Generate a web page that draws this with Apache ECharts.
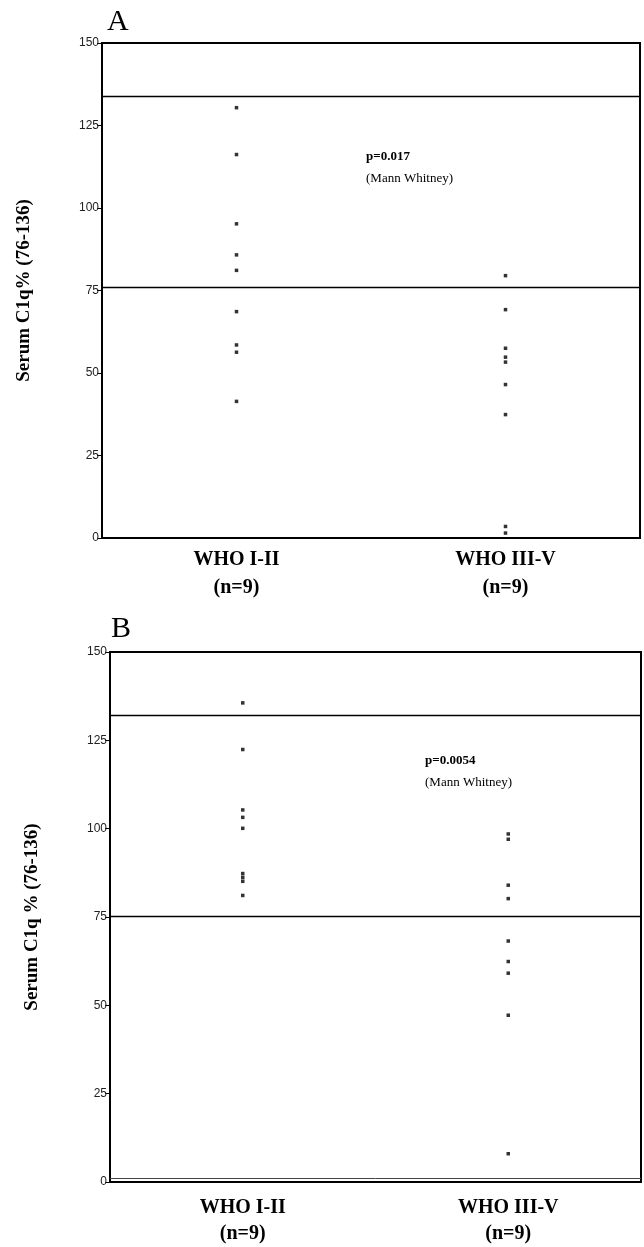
<!DOCTYPE html>
<html>
<head>
<meta charset="utf-8">
<script src="https://cdn.jsdelivr.net/npm/echarts@6/dist/echarts.min.js"></script>
<style>
html,body{margin:0;padding:0;background:#fff;}
#chart{width:644px;height:1247px;}
</style>
</head>
<body>
<div id="chart"></div>
<script>
// ---- data ----
const categories = ['WHO I-II', 'WHO III-V'];
const groupSizes = ['(n=9)', '(n=9)'];
const yTickMin = 0, yTickMax = 150, yTickStep = 25;

const panelA_whoI_II = [130.4, 116.2, 95.2, 85.8, 81.1, 68.6, 58.5, 56.3, 41.4];
const panelA_whoIII_V = [79.5, 69.2, 57.5, 54.8, 53.3, 46.5, 37.4, 3.5, 1.5];
const panelA_refLines = [133.9, 76.0];
const panelA_pText = 'p=0.017';

const panelB_whoI_II = [135.6, 122.4, 105.3, 103.2, 100.1, 87.3, 86.2, 85.1, 81.1];
const panelB_whoIII_V = [98.5, 97.0, 84.0, 80.2, 68.2, 62.4, 59.1, 47.2, 8.0];
const panelB_refLines = [132.1, 75.2];
const panelB_baseLine = [1.0];
const panelB_pText = 'p=0.0054';

const testText = '(Mann Whitney)';
const yNameA = 'Serum C1q% (76-136)';
const yNameB = 'Serum C1q % (76-136)';

// ---- build ----
const serif = '"Liberation Serif", "DejaVu Serif", serif';
const sans = '"Liberation Sans", Arial, sans-serif';

function pts(cat, arr) { return arr.map(v => [cat, v]); }

function xAxisFor(gi, margin, lh) {
  return {
    type: 'category', gridIndex: gi, data: categories,
    axisLine: { lineStyle: { color: '#000', width: 2 } },
    axisTick: { show: false },
    axisLabel: {
      margin: margin, color: '#000', fontFamily: serif, fontWeight: 'bold', fontSize: 20, lineHeight: lh,
      formatter: (v, i) => v + '\n' + groupSizes[i]
    }
  };
}
function yAxisFor(gi, name) {
  return {
    type: 'value', gridIndex: gi, min: yTickMin, max: yTickMax, interval: yTickStep,
    name: name, nameLocation: 'middle', nameGap: 68, nameRotate: 90,
    nameTextStyle: { fontFamily: serif, fontWeight: 'bold', fontSize: 19, color: '#000' },
    axisLine: { show: true, lineStyle: { color: '#000', width: 2 } },
    axisTick: { show: true, length: 5, lineStyle: { color: '#000', width: 1 } },
    axisLabel: { color: '#222', fontFamily: sans, fontSize: 12, margin: 3 },
    splitLine: { show: false }
  };
}
function scatter(gi, data) {
  return {
    type: 'scatter', xAxisIndex: gi, yAxisIndex: gi, data: data,
    symbol: 'rect', symbolSize: 3.5, itemStyle: { color: '#000' }, silent: true
  };
}
function refLines(gi, vals, width, color) {
  return {
    type: 'line', xAxisIndex: gi, yAxisIndex: gi, data: [], silent: true,
    markLine: {
      symbol: 'none', silent: true, label: { show: false },
      lineStyle: { color: color, width: width, type: 'solid' },
      data: vals.map(v => ({ yAxis: v }))
    }
  };
}

const option = {
  backgroundColor: '#fff',
  animation: false,
  grid: [
    { left: 102, top: 43, width: 538, height: 495, show: true, borderColor: '#000', borderWidth: 2, backgroundColor: 'transparent' },
    { left: 110, top: 652, width: 531, height: 533, show: true, borderColor: '#000', borderWidth: 2, backgroundColor: 'transparent' }
  ],
  xAxis: [xAxisFor(0, 8, 28), xAxisFor(1, 13, 26)],
  yAxis: [yAxisFor(0, yNameA), yAxisFor(1, yNameB)],
  series: [
    scatter(0, pts(categories[0], panelA_whoI_II)),
    scatter(0, pts(categories[1], panelA_whoIII_V)),
    refLines(0, panelA_refLines, 1.3, '#000'),
    scatter(1, pts(categories[0], panelB_whoI_II)),
    scatter(1, pts(categories[1], panelB_whoIII_V)),
    refLines(1, panelB_refLines, 1.3, '#000'),
    refLines(1, panelB_baseLine, 1, '#444')
  ],
  graphic: [
    { type: 'text', left: 107, top: 7, style: { text: 'A', font: '30px ' + serif, fill: '#000' } },
    { type: 'text', left: 111, top: 614, style: { text: 'B', font: '30px ' + serif, fill: '#000' } },
    { type: 'text', left: 366, top: 150, style: { text: panelA_pText, font: 'bold 13px ' + serif, fill: '#000' } },
    { type: 'text', left: 366, top: 172, style: { text: testText, font: '13px ' + serif, fill: '#000' } },
    { type: 'text', left: 425, top: 754, style: { text: panelB_pText, font: 'bold 13px ' + serif, fill: '#000' } },
    { type: 'text', left: 425, top: 776, style: { text: testText, font: '13px ' + serif, fill: '#000' } }
  ]
};

const chart = echarts.init(document.getElementById('chart'), null, { renderer: 'canvas' });
chart.setOption(option);
</script>
</body>
</html>
